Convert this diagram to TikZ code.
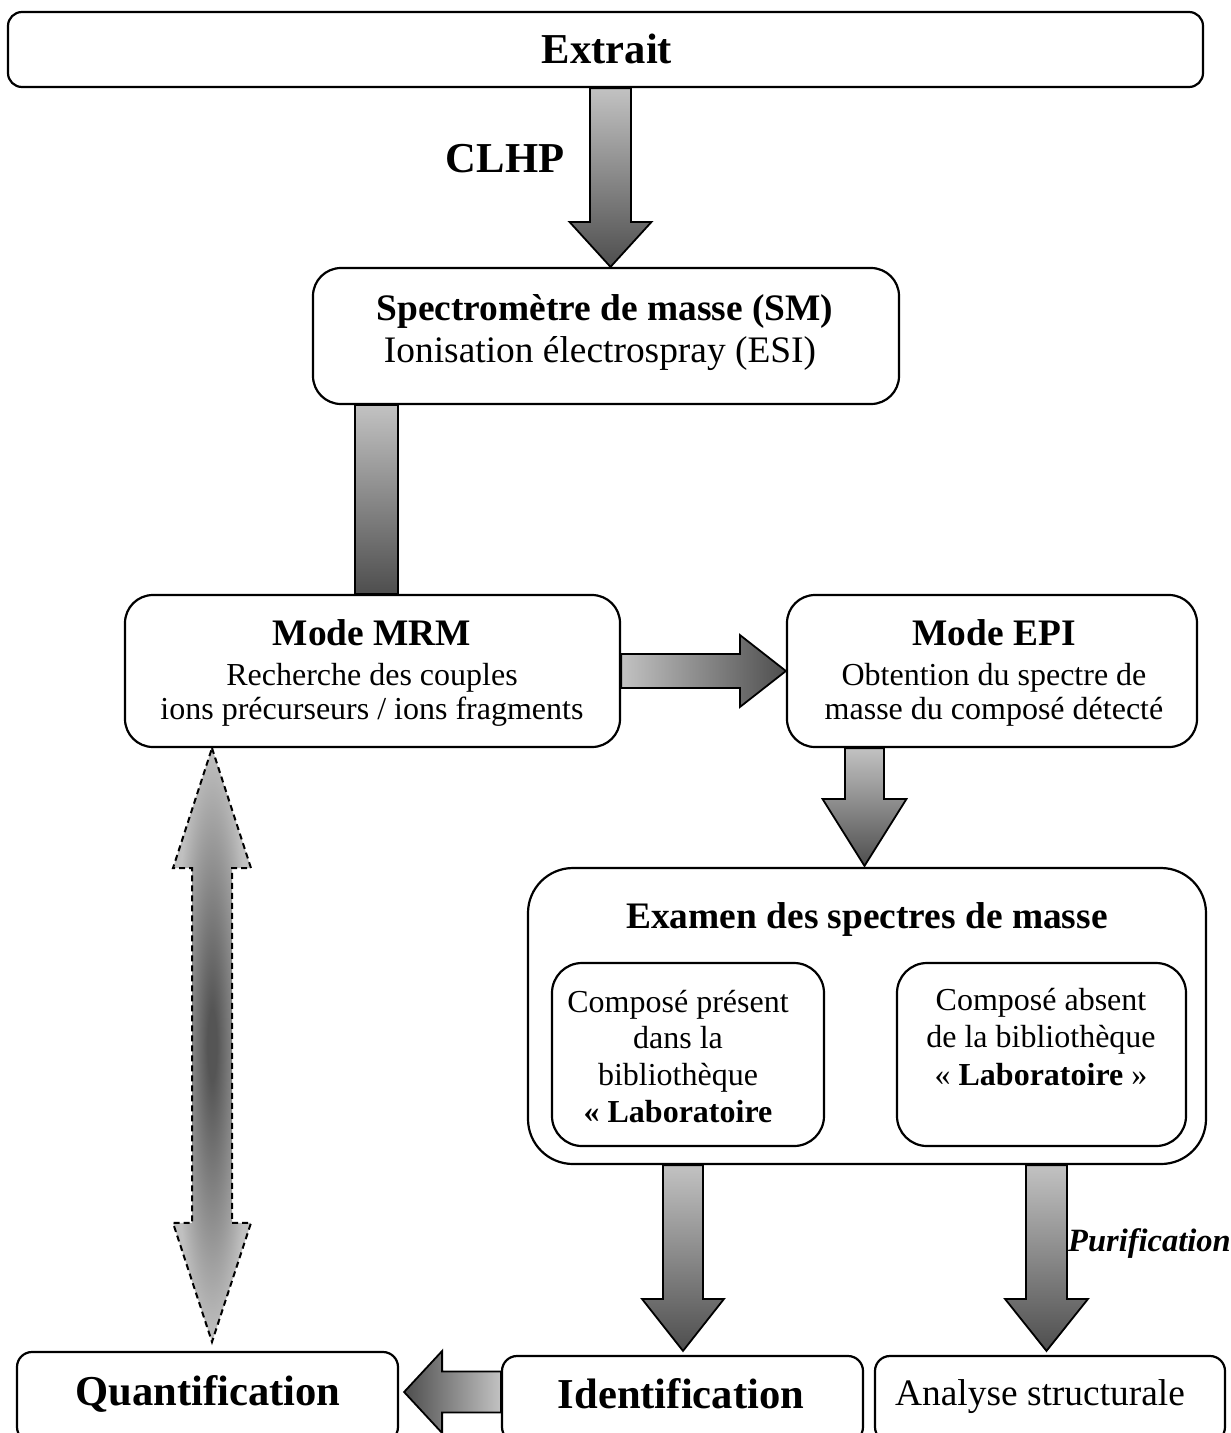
\documentclass[tikz,border=0pt]{standalone}
\usepackage{fontspec}
\setmainfont{Liberation Serif}
\usetikzlibrary{calc}
\definecolor{gl}{RGB}{194,194,194}
\definecolor{gd}{RGB}{78,78,78}
\definecolor{dal}{RGB}{192,192,192}
\definecolor{dad}{RGB}{85,85,85}
\pgfdeclareradialshading{dblrad}{\pgfpoint{0bp}{0bp}}{color(0bp)=(dad); color(3bp)=(dad); color(25bp)=(dal); color(50bp)=(dal)}
\newcommand\fsz[1]{\fontsize{#1}{#1}\selectfont}
% vertical block arrow: from, to, x, shaft half, head half, head length, gap, options
\newcommand\vblock[8]{%
  \path[#8] let \p1=(#1), \p2=(#2) in
  (#3pt-#4pt,\y1) -- (#3pt+#4pt,\y1) -- (#3pt+#4pt,\y2+#7pt+#6pt) -- (#3pt+#5pt,\y2+#7pt+#6pt)
  -- (#3pt,\y2+#7pt) -- (#3pt-#5pt,\y2+#7pt+#6pt) -- (#3pt-#4pt,\y2+#7pt+#6pt) -- cycle;}
\newcommand\dblpath[1]{%
  \path[#1] let \p1=(mrm.south), \p2=(quant.north) in
  (212pt,\y1) -- (251pt,\y1-120pt) -- (232pt,\y1-120pt) -- (232pt,\y2+128pt) -- (251pt,\y2+128pt)
  -- (212pt,\y2+9pt) -- (173pt,\y2+128pt) -- (192pt,\y2+128pt) -- (192pt,\y1-120pt) -- (173pt,\y1-120pt) -- cycle;}
\tikzset{
  box/.style={draw=black, line width=2.2pt, rounded corners=#1, inner sep=0pt},
  box/.default=28pt,
  txt/.style={anchor=base, inner sep=0pt},
  tbig/.style={font=\fsz{42.6}\bfseries},
  tbold/.style={font=\fsz{37.4}\bfseries},
  treg/.style={font=\fsz{37.4}},
  tsmall/.style={font=\fsz{32}},
  tsbold/.style={font=\fsz{32}\bfseries},
  arrv/.style={draw=black, line width=1.8pt, top color=gl, bottom color=gd},
  arrlr/.style={draw=black, line width=1.8pt, left color=gl, right color=gd},
  arrrl/.style={draw=black, line width=1.8pt, left color=gd, right color=gl},
}
\begin{document}
\begin{tikzpicture}[x=1pt, y=-1pt]
\path[use as bounding box, clip] (0,0) rectangle (1231,1433);
\fill[white] (0,0) rectangle (1231,1433);

% boxes
\node[box=14pt, minimum width=1195pt, minimum height=75pt] (ext) at (605.5,49.5) {};
\node[box=28pt, minimum width=586pt, minimum height=136pt] (sm) at (606,336) {};
\node[box=28pt, minimum width=495pt, minimum height=152pt] (mrm) at (372.5,671) {};
\node[box=28pt, minimum width=410pt, minimum height=152pt] (epi) at (992,671) {};
\node[box=45pt, minimum width=678pt, minimum height=296pt] (exam) at (867,1016) {};
\node[box=30pt, minimum width=272pt, minimum height=183pt] (inl) at (688,1054.5) {};
\node[box=30pt, minimum width=289pt, minimum height=183pt] (inr) at (1041.5,1054.5) {};
\node[box=15pt, minimum width=381pt, minimum height=90pt] (quant) at (207.5,1397) {};
\node[box=15pt, minimum width=361pt, minimum height=86pt] (ident) at (682.5,1399) {};
\node[box=15pt, minimum width=350pt, minimum height=86pt] (anal) at (1050,1399) {};

% texts
\node[txt, tbig] (tExt) at (607,63) {Extrait};
\node[txt, tbig] (tCLHP) at (505,172) {CLHP};
\node[txt, tbold] (tsm1) at (605,320) {Spectromètre de masse (SM)};
\node[txt, treg] (tsm2) at (600,362) {Ionisation électrospray (ESI)};
\node[txt, tbold] (tmrm1) at (372,645) {Mode MRM};
\node[txt, tsmall] (tmrm2) at (372,685) {Recherche des couples};
\node[txt, tsmall] (tmrm3) at (372,719) {ions précurseurs / ions fragments};
\node[txt, tbold] (tepi1) at (994,645) {Mode EPI};
\node[txt, tsmall] (tepi2) at (994,685) {Obtention du spectre de};
\node[txt, tsmall] (tepi3) at (994,719) {masse du composé détecté};
\node[txt, tbold] (texam) at (867,928) {Examen des spectres de masse};
\node[txt, tsmall] (tl1) at (678,1012) {Composé présent};
\node[txt, tsmall] (tl2) at (678,1048) {dans la};
\node[txt, tsmall] (tl3) at (678,1085) {bibliothèque};
\node[txt, tsbold] (tl4) at (678,1122) {« Laboratoire};
\node[txt, tsmall] (tr1) at (1041,1010) {Composé absent};
\node[txt, tsmall] (tr2) at (1041,1047) {de la bibliothèque};
\node[txt, tsmall] (tr3) at (1041,1085) {« \textbf{Laboratoire} »};
\node[txt, tbig] (tquant) at (208,1405) {Quantification};
\node[txt, tbig] (tident) at (681,1408) {Identification};
\node[txt, treg] (tanal) at (1040,1405) {Analyse structurale};
\node[txt, anchor=base west, font=\fsz{32.5}\bfseries\itshape] (tpur) at (1068,1251) {Purification};

% block arrows
\vblock{ext.south}{sm.north}{610.5}{20.5}{41}{45}{0}{arrv}
\path[arrv] let \p1=(sm.south), \p2=(mrm.north) in (355pt,\y1) rectangle (398pt,\y2);
\path[arrlr] let \p1=(mrm.east), \p2=(epi.west) in
  (\x1,\y1+17pt) -- (\x2-46pt,\y1+17pt) -- (\x2-46pt,\y1+36pt) -- (\x2,\y1)
  -- (\x2-46pt,\y1-36pt) -- (\x2-46pt,\y1-17pt) -- (\x1,\y1-17pt) -- cycle;
\vblock{epi.south}{exam.north}{864.5}{19.5}{42}{67}{1}{arrv}
\vblock{exam.south}{ident.north}{683}{20}{41}{52}{4}{arrv}
\vblock{exam.south}{anal.north}{1046.5}{20.5}{41.5}{52}{4}{arrv}
\path[arrrl] let \p1=(ident.west), \p2=(quant.east) in
  (\x1,-1371.5pt) -- (\x2+43pt,-1371.5pt) -- (\x2+43pt,-1351pt) -- (\x2+5pt,-1392pt)
  -- (\x2+43pt,-1433pt) -- (\x2+43pt,-1412.5pt) -- (\x1,-1412.5pt) -- cycle;

% dashed double arrow
\dblpath{shade, shading=dblrad}
\dblpath{draw=black, line width=2pt, dash pattern=on 6pt off 4pt}
\end{tikzpicture}
\end{document}
